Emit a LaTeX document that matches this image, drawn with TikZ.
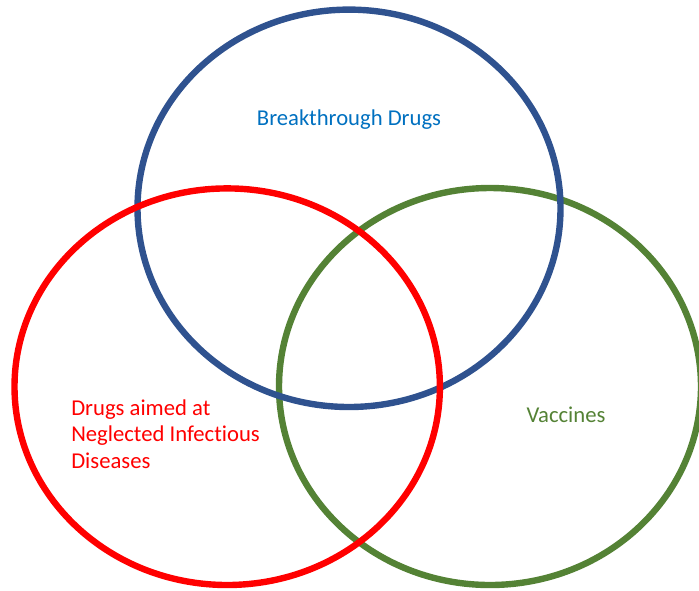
\documentclass[tikz,border=0pt]{standalone}
\usepackage{fontspec}
\setmainfont{Carlito}[Ligatures={NoCommon,NoContextual}]
\definecolor{cblue}{HTML}{2F528F}
\definecolor{tblue}{HTML}{0070C0}
\definecolor{cgreen}{HTML}{548235}
\definecolor{cred}{HTML}{FF0000}
\begin{document}
\begin{tikzpicture}[x=0.75pt,y=-0.75pt,
  ring/.style={line width=4.8pt},
  lbl/.style={font=\fontsize{17}{20}\selectfont, inner sep=0pt}]
\useasboundingbox (0,0) rectangle (699,590);
\draw[ring, cgreen] (490,386.5) ellipse [x radius=211, y radius=198.5];
\draw[ring, cblue] (349,208.3) ellipse [x radius=211.5, y radius=198.7];
\draw[ring, cred] (227.2,386.7) ellipse [x radius=212.7, y radius=198.3];
\node[lbl, text=tblue] (bt) at (349,119.5) {Breakthrough Drugs};
\node[lbl, text=cred, align=left, anchor=west] (nid) at (71,434) {Drugs aimed at\\Neglected Infectious\\Diseases};
\node[lbl, text=cgreen] (vac) at (566,415) {Vaccines};
\end{tikzpicture}
\end{document}
